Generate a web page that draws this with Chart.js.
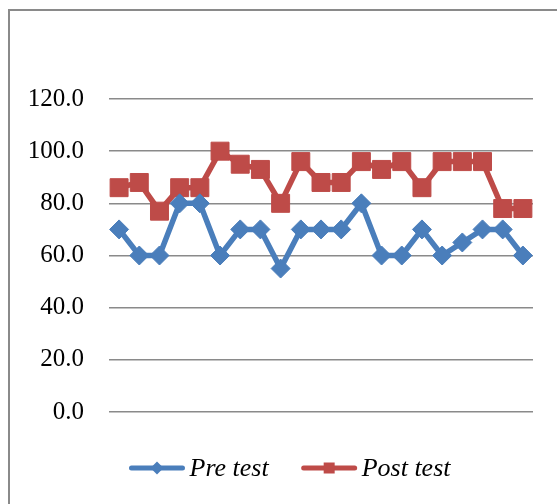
<!DOCTYPE html>
<html>
<head>
<meta charset="utf-8">
<script src="https://cdn.jsdelivr.net/npm/chart.js@4/dist/chart.umd.min.js"></script>
<style>
  html, body { margin: 0; padding: 0; background: #ffffff; }
  canvas { display: block; }
</style>
</head>
<body>
<canvas id="scores" width="557" height="504"></canvas>
<script>
// Student numbers (one point per student)
const students = ['1','2','3','4','5','6','7','8','9','10','11','12','13','14','15','16','17','18','19','20','21'];

// Scores before and after the treatment
const preTest  = [70, 60, 60, 80, 80, 60, 70, 70, 55, 70, 70, 70, 80, 60, 60, 70, 60, 65, 70, 70, 60];
const postTest = [86, 88, 77, 86, 86, 100, 95, 93, 80, 96, 88, 88, 96, 93, 96, 86, 96, 96, 96, 78, 78];

// Value axis ticks
const yTicks = [0, 20, 40, 60, 80, 100, 120];

const seriesNames = ['Pre test', 'Post test'];

const BLUE = '#4A7EBB';
const RED = '#BE4B48';
const SERIF = '"Liberation Serif", "Times New Roman", serif';

// Outer frame of the chart object
const framePlugin = {
  id: 'frame',
  beforeDraw(chart) {
    const ctx = chart.ctx;
    ctx.save();
    ctx.fillStyle = '#ffffff';
    ctx.fillRect(0, 0, chart.width, chart.height);
    ctx.strokeStyle = '#8a8a8a';
    ctx.lineWidth = 2;
    ctx.beginPath();
    ctx.moveTo(9, chart.height + 5);
    ctx.lineTo(9, 10);
    ctx.lineTo(chart.width + 5, 10);
    ctx.stroke();
    ctx.restore();
  }
};

// Legend drawn as line + marker samples followed by italic names
const lineLegendPlugin = {
  id: 'lineLegend',
  afterDraw(chart) {
    const ctx = chart.ctx;
    const lineLen = 55, gapText = 5, gapItems = 33;
    const centerX = 290, y = 468;
    ctx.save();
    ctx.font = 'italic 26px ' + SERIF;
    const items = chart.data.datasets.map(ds => ({
      ds, w: lineLen + gapText + ctx.measureText(ds.label).width
    }));
    const total = items.reduce((s, it) => s + it.w, 0) + gapItems * (items.length - 1);
    let x = centerX - total / 2;
    items.forEach(({ ds }) => {
      ctx.strokeStyle = ds.borderColor;
      ctx.lineWidth = 5;
      ctx.lineCap = 'round';
      ctx.beginPath();
      ctx.moveTo(x + 2, y);
      ctx.lineTo(x + lineLen - 2, y);
      ctx.stroke();
      ctx.fillStyle = ds.borderColor;
      const mx = x + lineLen / 2;
      ctx.beginPath();
      if (ds.pointStyle === 'rectRot') {
        ctx.moveTo(mx, y - 6.5);
        ctx.lineTo(mx + 6.5, y);
        ctx.lineTo(mx, y + 6.5);
        ctx.lineTo(mx - 6.5, y);
        ctx.closePath();
      } else {
        ctx.rect(mx - 5.5, y - 5.5, 11, 11);
      }
      ctx.fill();
      ctx.fillStyle = '#000000';
      ctx.textBaseline = 'middle';
      ctx.textAlign = 'left';
      ctx.fillText(ds.label, x + lineLen + gapText, y + 1);
      x += lineLen + gapText + ctx.measureText(ds.label).width + gapItems;
    });
    ctx.restore();
  }
};

new Chart(document.getElementById('scores'), {
  type: 'line',
  data: {
    labels: students,
    datasets: [
      {
        label: seriesNames[0],
        data: preTest,
        borderColor: BLUE,
        backgroundColor: BLUE,
        borderWidth: 5.5,
        pointStyle: 'rectRot',
        pointRadius: 9.5,
        pointBorderWidth: 1,
        tension: 0
      },
      {
        label: seriesNames[1],
        data: postTest,
        borderColor: RED,
        backgroundColor: RED,
        borderWidth: 5.5,
        pointStyle: 'rect',
        pointRadius: 12.7,
        pointBorderWidth: 1,
        tension: 0
      }
    ]
  },
  options: {
    responsive: false,
    animation: false,
    layout: { padding: { left: 9, right: 24, top: 99, bottom: 92 } },
    plugins: {
      legend: { display: false },
      tooltip: { enabled: false }
    },
    scales: {
      x: {
        display: false,
        offset: true
      },
      y: {
        min: 0,
        max: 120,
        afterFit(scale) { scale.width = 100; },
        afterBuildTicks(scale) { scale.ticks = yTicks.map(v => ({ value: v })); },
        border: { display: false },
        grid: {
          color: '#8a8a8a',
          lineWidth: 1.5,
          drawTicks: false
        },
        ticks: {
          padding: 25,
          color: '#000000',
          font: { family: SERIF, size: 25 },
          callback: v => Number(v).toFixed(1)
        }
      }
    }
  },
  plugins: [framePlugin, lineLegendPlugin]
});
</script>
</body>
</html>
